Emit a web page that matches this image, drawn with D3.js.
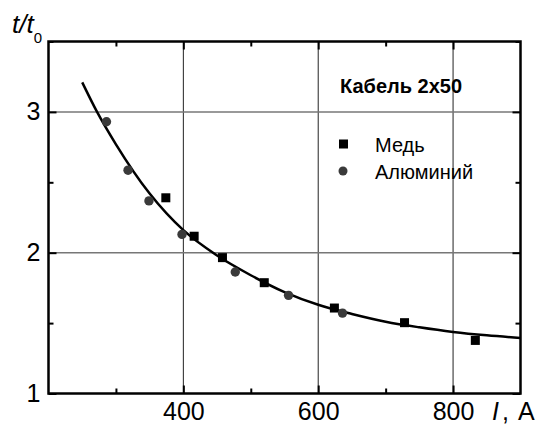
<!DOCTYPE html>
<html>
<head>
<meta charset="utf-8">
<script src="https://cdn.jsdelivr.net/npm/d3@7"></script>
<style>
  html, body { margin: 0; padding: 0; background: #fff; }
  svg { display: block; font-family: Arial, "Liberation Sans", sans-serif; }
</style>
</head>
<body>
<div id="chart"></div>
<script>
// current I (A) and relative time t/t0
const copperI = [374, 416, 458, 520, 624, 728, 833];
const copperT = [2.39, 2.117, 1.965, 1.787, 1.607, 1.503, 1.377];

const aluI = [286, 318, 349, 398, 477, 556, 636];
const aluT = [2.93, 2.586, 2.368, 2.13, 1.863, 1.697, 1.571];

// fitted curve
const fitI = [250, 272, 300, 350, 400, 450, 500, 550, 600, 650, 700, 750, 800, 850, 900];
const fitT = [3.21, 3.0, 2.77, 2.42, 2.16, 1.98, 1.84, 1.72, 1.63, 1.565, 1.51, 1.47, 1.437, 1.413, 1.395];

const xMajor = [400, 600, 800];
const xMinor = [300, 500, 700];
const yMajor = [1, 2, 3];
const yMinor = [1.5, 2.5, 3.5];

const legendTitle = 'Кабель 2x50';
const seriesNames = ['Медь', 'Алюминий'];

const W = 542, H = 425;
const margin = { top: 41.5, right: 21.5, bottom: 31.5, left: 48.5 };
const width = W - margin.left - margin.right;
const height = H - margin.top - margin.bottom;

const svg = d3.select('#chart').append('svg')
    .attr('width', W)
    .attr('height', H);

const g = svg.append('g')
    .attr('transform', `translate(${margin.left},${margin.top})`);

const x = d3.scaleLinear().domain([200, 900]).range([0, width]);
const y = d3.scaleLinear().domain([1, 3.5]).range([height, 0]);

// grid
g.append('g').selectAll('line')
    .data(xMajor)
    .join('line')
    .attr('x1', d => x(d)).attr('x2', d => x(d))
    .attr('y1', 0).attr('y2', height)
    .attr('stroke', '#222').attr('stroke-width', 1);

g.append('g').selectAll('line')
    .data(yMajor.filter(d => d > 1))
    .join('line')
    .attr('x1', 0).attr('x2', width)
    .attr('y1', d => y(d)).attr('y2', d => y(d))
    .attr('stroke', '#777').attr('stroke-width', 1.5);

// fit curve
const fit = fitI.map((d, i) => [d, fitT[i]]);
g.append('path')
    .datum(fit)
    .attr('fill', 'none')
    .attr('stroke', '#000')
    .attr('stroke-width', 2.5)
    .attr('d', d3.line().x(d => x(d[0])).y(d => y(d[1])).curve(d3.curveMonotoneX));

// points
const sq = 9;
g.append('g').selectAll('rect')
    .data(copperI.map((d, i) => [d, copperT[i]]))
    .join('rect')
    .attr('x', d => x(d[0]) - sq / 2)
    .attr('y', d => y(d[1]) - sq / 2)
    .attr('width', sq).attr('height', sq)
    .attr('fill', '#000');

g.append('g').selectAll('circle')
    .data(aluI.map((d, i) => [d, aluT[i]]))
    .join('circle')
    .attr('cx', d => x(d[0]))
    .attr('cy', d => y(d[1]))
    .attr('r', 4.7)
    .attr('fill', '#3a3a3a');

// axes, ticks pointing inward on all sides
const fmt = d3.format('d');
function styleAxis(sel, fontSize) {
    sel.select('.domain').remove();
    sel.selectAll('.tick line').attr('stroke', '#000').attr('stroke-width', 2);
    sel.selectAll('.tick text')
        .attr('fill', '#000')
        .style('font-size', fontSize + 'px')
        .style('font-family', 'Arial, "Liberation Sans", sans-serif');
}

g.append('g').attr('transform', `translate(0,${height})`)
    .call(d3.axisBottom(x).tickValues(xMajor).tickSize(-8).tickPadding(9).tickFormat(fmt))
    .call(s => styleAxis(s, 25));
g.append('g').attr('transform', `translate(0,${height})`)
    .call(d3.axisBottom(x).tickValues(xMinor).tickSize(-5).tickFormat(''))
    .call(s => styleAxis(s, 25));
g.append('g')
    .call(d3.axisTop(x).tickValues(xMajor).tickSize(-8).tickFormat(''))
    .call(s => styleAxis(s, 25));
g.append('g')
    .call(d3.axisTop(x).tickValues(xMinor).tickSize(-5).tickFormat(''))
    .call(s => styleAxis(s, 25));

g.append('g')
    .call(d3.axisLeft(y).tickValues(yMajor).tickSize(-8).tickPadding(8).tickFormat(fmt))
    .call(s => styleAxis(s, 25));
g.append('g')
    .call(d3.axisLeft(y).tickValues(yMinor).tickSize(-5).tickFormat(''))
    .call(s => styleAxis(s, 25));
g.append('g').attr('transform', `translate(${width},0)`)
    .call(d3.axisRight(y).tickValues(yMajor).tickSize(-8).tickFormat(''))
    .call(s => styleAxis(s, 25));
g.append('g').attr('transform', `translate(${width},0)`)
    .call(d3.axisRight(y).tickValues(yMinor).tickSize(-5).tickFormat(''))
    .call(s => styleAxis(s, 25));

// frame
g.append('rect')
    .attr('width', width).attr('height', height)
    .attr('fill', 'none')
    .attr('stroke', '#000')
    .attr('stroke-width', 2.5);

// axis titles
const yTitle = svg.append('text')
    .attr('x', 12).attr('y', 33)
    .style('font-size', '26px')
    .style('font-style', 'italic');
yTitle.append('tspan').text('t/t');
yTitle.append('tspan')
    .attr('dy', 10)
    .style('font-size', '15px')
    .style('font-style', 'normal')
    .text('0');

const xTitle = svg.append('text')
    .attr('x', 492).attr('y', margin.top + height + 26.5)
    .style('font-size', '25px');
xTitle.append('tspan').style('font-style', 'italic').text('I');
xTitle.append('tspan').attr('dx', 3).text(',');
xTitle.append('tspan').attr('dx', 9).text('A');

// legend
svg.append('text')
    .attr('x', 340).attr('y', 93)
    .style('font-size', '20px')
    .style('font-weight', 'bold')
    .text(legendTitle);

svg.append('rect')
    .attr('x', 339).attr('y', 139.5)
    .attr('width', sq).attr('height', sq)
    .attr('fill', '#000');
svg.append('text')
    .attr('x', 375).attr('y', 151.5)
    .style('font-size', '20px')
    .text(seriesNames[0]);

svg.append('circle')
    .attr('cx', 343).attr('cy', 171)
    .attr('r', 4.5)
    .attr('fill', '#3a3a3a');
svg.append('text')
    .attr('x', 375).attr('y', 179)
    .style('font-size', '20px')
    .text(seriesNames[1]);
</script>
</body>
</html>
